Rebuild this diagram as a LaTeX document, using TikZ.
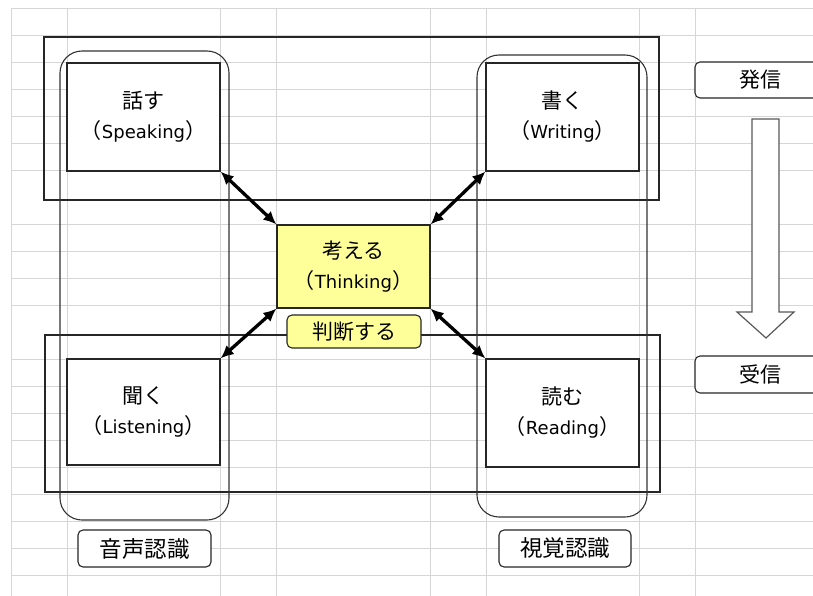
\documentclass[tikz,border=0pt]{standalone}
\usepackage{fontspec}
\setmainfont{DejaVu Sans}
\newfontfamily\cjk{Noto Sans CJK JP}
\usetikzlibrary{arrows.meta}
\newcommand{\jp}[1]{{\cjk\fontsize{21}{30}\selectfont #1}}
\newcommand{\jl}[1]{{\cjk\fontsize{21}{30}\selectfont #1}}
\newcommand{\jb}[1]{{\cjk\fontsize{22.5}{30}\selectfont #1}}
\definecolor{gridc}{HTML}{D6D6D6}
\definecolor{yel}{HTML}{FFFF99}
\begin{document}
\begin{tikzpicture}[x=1pt,y=-1pt,
  skillbox/.style={draw=black!85, line width=1.2pt, fill=white, minimum width=153pt,
    minimum height=108pt, inner sep=0pt, align=center, font=\fontsize{18}{30}\selectfont},
  thinkbox/.style={skillbox, fill=yel, minimum height=83pt},
  tagbox/.style={draw=black!85, line width=1.1pt, fill=white, rounded corners=5pt,
    inner sep=0pt, minimum height=36pt},
  frame/.style={draw=black!85, line width=1.2pt},
  pill/.style={draw=black!80, line width=1.1pt, rounded corners=22pt},
  link/.style={line width=3.3pt, {Latex[length=13pt,width=12pt]}-{Latex[length=13pt,width=12pt]}}
]
\useasboundingbox (0,0) rectangle (813,596);
\fill[white] (0,0) rectangle (813,596);
% grid
\foreach \k in {0,...,21}{
  \ifnum\k=7\else\ifnum\k=12\else
  \draw[gridc, line width=1pt] (11,{8.5+27*\k}) -- (813,{8.5+27*\k});
  \fi\fi}
\foreach \x in {11,67,220,276,430,486,639,695}
  \draw[gridc, line width=1pt] (\x,8.5) -- (\x,596);
% frames
\draw[frame] (44,37) rectangle (659,200);
\draw[frame] (45,335) rectangle (660,492);
\draw[pill] (60,51) rectangle (229,520);
\draw[pill] (477,55) rectangle (647,517);
% skill boxes
\node[skillbox] (speak) at (143.5,117) {\jp{話す}\\\jp{（}Speaking\jp{）}};
\node[skillbox] (write) at (562.5,117) {\jp{書く}\\\jp{（}Writing\jp{）}};
\node[skillbox, minimum height=106pt] (listen) at (143.5,412) {\jp{聞く}\\\jp{（}Listening\jp{）}};
\node[skillbox, minimum height=108pt] (read) at (562.5,413) {\jp{読む}\\\jp{（}Reading\jp{）}};
\node[thinkbox] (think) at (353.5,266.5) {\jp{考える}\\\jp{（}Thinking\jp{）}};
\node[tagbox, fill=yel, minimum width=134pt, minimum height=33pt] (judge) at (354,331.5) {\jl{判断する}};
% links
\draw[link] (speak.south east) -- (think.north west);
\draw[link] (write.south west) -- (think.north east);
\draw[link] (listen.north east) -- (think.south west);
\draw[link] (read.north west) -- (think.south east);
% labels
\node[tagbox, minimum width=133pt, minimum height=37pt] (voice) at (144.5,548.5) {\jb{音声認識}};
\node[tagbox, minimum width=132pt, minimum height=37pt] (visual) at (565,548.5) {\jb{視覚認識}};
\node[tagbox, minimum width=130pt, minimum height=36pt] (send) at (760,80) {\jl{発信}};
\node[tagbox, minimum width=130pt, minimum height=37pt] (recv) at (760,374.5) {\jl{受信}};
% block arrow
\draw[draw=black!65, line width=1.2pt, fill=white, line join=miter]
  (752,119) -- (779,119) -- (779,312) -- (794,312) -- (766,338) -- (737,312) -- (752,312) -- cycle;
\end{tikzpicture}
\end{document}
